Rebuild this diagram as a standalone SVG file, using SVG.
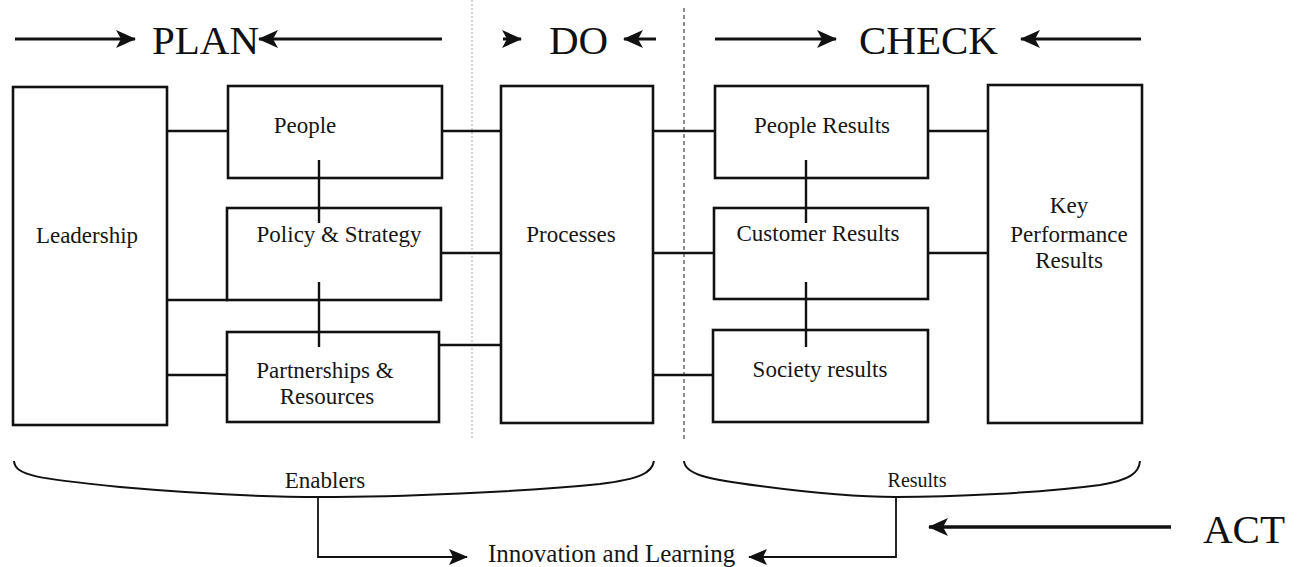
<svg xmlns="http://www.w3.org/2000/svg" width="1301" height="567" viewBox="0 0 1301 567">
  <style>
    .box { fill: none; stroke: #111111; stroke-width: 2.6; }
    .link { stroke: #111111; stroke-width: 2.4; fill: none; }
    .thin { stroke: #111111; stroke-width: 1.8; fill: none; }
    .phase { stroke: #111111; stroke-width: 3; fill: none; }
    .brace { stroke: #111111; stroke-width: 2; fill: none; }
    .label { font-family: "Liberation Serif", "Times New Roman", serif; font-size: 23px; fill: #161616; }
    .small { font-family: "Liberation Serif", "Times New Roman", serif; font-size: 23px; fill: #161616; }
    .head { font-family: "Liberation Serif", "Times New Roman", serif; font-size: 41px; fill: #111111; }
  </style>
  <defs>
    <marker id="bigHead" markerUnits="userSpaceOnUse" markerWidth="20" markerHeight="18" refX="19" refY="9" orient="auto">
      <path d="M0,0 L20,9 L0,18 L5,9 z" fill="#111111"/>
    </marker>
    <marker id="smallHead" markerUnits="userSpaceOnUse" markerWidth="19" markerHeight="16" refX="18" refY="8" orient="auto">
      <path d="M0,0 L19,8 L0,16 L4,8 z" fill="#111111"/>
    </marker>
  </defs>

  <rect width="1301" height="567" fill="#ffffff"/>

  <!-- phase separators -->
  <line x1="472" y1="0" x2="472" y2="440" stroke="#bbbbbb" stroke-width="1.2" stroke-dasharray="2,2"/>
  <line x1="684" y1="8" x2="684" y2="440" stroke="#444444" stroke-width="1.2" stroke-dasharray="4,3"/>

  <!-- phase headings -->
  <g id="phases">
    <line class="phase" x1="15" y1="39" x2="135" y2="39" marker-end="url(#bigHead)"/>
    <text class="head" x="152" y="54">PLAN</text>
    <line class="phase" x1="442" y1="39" x2="259" y2="39" marker-end="url(#bigHead)"/>

    <line class="phase" x1="503" y1="39" x2="521" y2="39" marker-end="url(#bigHead)"/>
    <text class="head" x="549" y="54">DO</text>
    <line class="phase" x1="656" y1="39" x2="624" y2="39" marker-end="url(#bigHead)"/>

    <line class="phase" x1="715" y1="39" x2="836" y2="39" marker-end="url(#bigHead)"/>
    <text class="head" x="859" y="54">CHECK</text>
    <line class="phase" x1="1141" y1="39" x2="1021" y2="39" marker-end="url(#bigHead)"/>

    <line class="phase" x1="1171" y1="527" x2="929" y2="527" style="stroke-width:3.5" marker-end="url(#bigHead)"/>
    <text class="head" x="1203" y="543">ACT</text>
  </g>

  <!-- enablers -->
  <g id="leadership">
    <rect class="box" x="13" y="87" width="154" height="338"/>
    <text class="label" x="87" y="243" text-anchor="middle">Leadership</text>
  </g>
  <g id="people">
    <rect class="box" x="228" y="86" width="214" height="92"/>
    <text class="label" x="305" y="133" text-anchor="middle">People</text>
  </g>
  <g id="policy-strategy">
    <rect class="box" x="227" y="208" width="214" height="92"/>
    <text class="label" x="339" y="242" text-anchor="middle">Policy &amp; Strategy</text>
  </g>
  <g id="partnerships-resources">
    <rect class="box" x="227" y="332" width="212" height="90"/>
    <text class="label" x="325" y="378" text-anchor="middle">Partnerships &amp;</text>
    <text class="label" x="327" y="404" text-anchor="middle">Resources</text>
  </g>
  <g id="processes">
    <rect class="box" x="501" y="86" width="152" height="337"/>
    <text class="label" x="571" y="242" text-anchor="middle">Processes</text>
  </g>

  <!-- results -->
  <g id="people-results">
    <rect class="box" x="715" y="86" width="213" height="92"/>
    <text class="label" x="822" y="133" text-anchor="middle">People Results</text>
  </g>
  <g id="customer-results">
    <rect class="box" x="714" y="208" width="214" height="91"/>
    <text class="label" x="818" y="241" text-anchor="middle">Customer Results</text>
  </g>
  <g id="society-results">
    <rect class="box" x="713" y="330" width="215" height="92"/>
    <text class="label" x="820" y="377" text-anchor="middle">Society results</text>
  </g>
  <g id="key-performance-results">
    <rect class="box" x="988" y="85" width="154" height="338"/>
    <text class="label" x="1069" y="213" text-anchor="middle">Key</text>
    <text class="label" x="1069" y="242" text-anchor="middle">Performance</text>
    <text class="label" x="1069" y="268" text-anchor="middle">Results</text>
  </g>

  <!-- grouping braces -->
  <g id="enablers">
    <path class="brace" d="M14,461 C15,476 40,479 120,487 C200,494 260,497 320,497 C400,497 520,492 600,484 C640,479 652,473 654,461"/>
    <text class="small" x="325" y="488" text-anchor="middle">Enablers</text>
  </g>
  <g id="results">
    <path class="brace" d="M684,461 C685,474 705,479 760,486 C820,494 860,497 896,497 C950,497 1040,493 1100,485 C1130,480 1139,473 1140,461"/>
    <text class="small" x="917" y="487" text-anchor="middle" style="font-size:20px">Results</text>
  </g>
  <g id="innovation-learning">
    <text class="small" x="488" y="562" style="font-size:25px">Innovation and Learning</text>
  </g>

  <!-- connectors (drawn last so the short vertical links cross into the boxes) -->
  <g id="connectors">
    <line class="link" x1="167" y1="131" x2="228" y2="131"/>
    <line class="link" x1="167" y1="300" x2="228" y2="300"/>
    <line class="link" x1="167" y1="375" x2="227" y2="375"/>
    <line class="link" x1="319" y1="160" x2="319" y2="223"/>
    <line class="link" x1="319" y1="282" x2="319" y2="347"/>
    <line class="link" x1="442" y1="131" x2="501" y2="131"/>
    <line class="link" x1="442" y1="253" x2="501" y2="253"/>
    <line class="link" x1="439" y1="345" x2="501" y2="345"/>
    <line class="link" x1="653" y1="131" x2="715" y2="131"/>
    <line class="link" x1="653" y1="253" x2="713" y2="253"/>
    <line class="link" x1="653" y1="375" x2="713" y2="375"/>
    <line class="link" x1="806" y1="160" x2="806" y2="223"/>
    <line class="link" x1="806" y1="282" x2="806" y2="347"/>
    <line class="link" x1="928" y1="131" x2="988" y2="131"/>
    <line class="link" x1="928" y1="253" x2="988" y2="253"/>

    <!-- enablers / results feedback into innovation and learning -->
    <polyline class="thin" points="318,497 318,557 467,557" marker-end="url(#smallHead)"/>
    <polyline class="thin" points="896,497 896,557 749,557" marker-end="url(#smallHead)"/>
  </g>
</svg>
